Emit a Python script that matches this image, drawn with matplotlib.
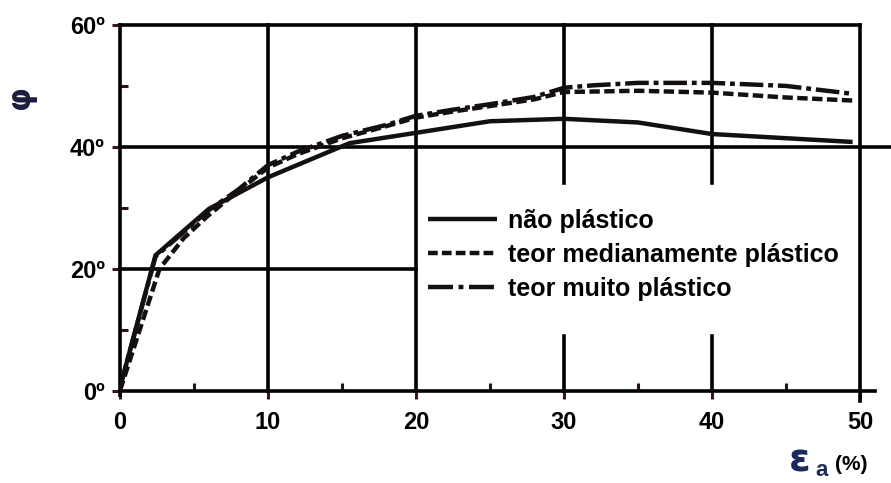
import matplotlib
matplotlib.use("Agg")
import matplotlib.pyplot as plt
from matplotlib.lines import Line2D

plt.rcParams['font.family'] = ['Liberation Sans', 'DejaVu Sans']
plt.rcParams['font.weight'] = 'bold'
plt.rcParams['lines.scale_dashes'] = False
plt.rcParams['lines.solid_capstyle'] = 'butt'

# axial strain (%) and friction angle (degrees) for each soil type
strain_nao = [0, 2.4, 6.0, 10.0, 15.5, 20.0, 25.0, 30.0, 35.0, 40.0, 49.5]
phi_nao = [0.5, 22.2, 29.8, 35.0, 40.6, 42.3, 44.2, 44.6, 44.0, 42.1, 40.8]

strain_medio = [0, 2.7, 3.0, 4.3, 5.9, 8.0, 10.0, 12.0, 15.0, 18.0, 20.0,
                22.5, 25.0, 28.0, 30.0, 35.0, 40.0, 45.0, 49.5]
phi_medio = [0, 20.2, 21.0, 25.0, 28.6, 32.8, 36.6, 38.8, 41.4, 43.4, 44.8,
             45.8, 46.7, 47.8, 49.0, 49.2, 48.9, 48.1, 47.6]

strain_muito = [0, 2.4, 6.0, 8.0, 10.0, 12.0, 15.0, 18.0, 20.0, 22.5, 25.0,
                28.0, 30.0, 32.0, 35.0, 40.0, 45.0, 49.5]
phi_muito = [0.5, 22.0, 29.6, 33.0, 37.0, 39.2, 41.8, 43.6, 45.1, 46.1, 47.0,
             48.2, 49.7, 50.1, 50.5, 50.5, 50.0, 48.7]

series_labels = ['não plástico', 'teor medianamente plástico', 'teor muito plástico']

x_major = [0, 10, 20, 30, 40, 50]
x_minor = [5, 15, 25, 35, 45]
y_major = [0, 20, 40, 60]
y_major_labels = ['0º', '20º', '40º', '60º']
y_minor = [10, 30, 50]

ink = '#141010'
frame_lw = 2.6
curve_lw = 3.2
dash_style = (0, (7.5, 3.2))
dashdot_style = (0, (17, 3.5, 3.5, 3.5))

fig = plt.figure(figsize=(8.91, 4.83), dpi=100)
W, H = 891, 483
ax = fig.add_axes([120 / W, 1 - 390.5 / H, 740 / W, 365.5 / H])
ax.set_xlim(0, 50)
ax.set_ylim(0, 60)
for s in ax.spines.values():
    s.set_visible(False)

frame_kw = dict(color='black', lw=frame_lw, clip_on=False, solid_capstyle='projecting', zorder=2)
# frame
ax.plot([0, 0], [-0.8, 60], **frame_kw)
ax.plot([0, 50], [60, 60], **frame_kw)
ax.plot([50, 50], [-1.8, 60], **frame_kw)
ax.plot([0, 51], [0, 0], **frame_kw)
# grid
for gx in (10, 20):
    ax.plot([gx, gx], [0, 60], **frame_kw)
for gx in (30, 40):
    ax.plot([gx, gx], [34, 60], **frame_kw)
    ax.plot([gx, gx], [0, 8.9], **frame_kw)
ax.plot([0, 52.3], [40, 40], **frame_kw)
ax.plot([0, 20], [20, 20], **frame_kw)

# curves
ax.plot(strain_nao, phi_nao, color=ink, lw=curve_lw, ls='-', zorder=4)
ax.plot(strain_medio, phi_medio, color=ink, lw=curve_lw, ls=dash_style, zorder=4)
ax.plot(strain_muito, phi_muito, color=ink, lw=curve_lw, ls=dashdot_style, zorder=4)

# ticks
ax.set_xticks(x_major)
ax.set_xticks(x_minor, minor=True)
ax.set_yticks(y_major)
ax.set_yticklabels(y_major_labels)
ax.set_yticks(y_minor, minor=True)
ax.tick_params(axis='both', which='major', direction='out', length=6,
               width=2.2, color='#3a1a14', labelsize=17)
ax.tick_params(axis='x', which='major', pad=9)
ax.tick_params(axis='y', which='major', pad=5)
ax.tick_params(axis='both', which='minor', direction='in', length=6,
               width=2.2, color='#2a1410')
for lab in ax.get_xticklabels() + ax.get_yticklabels():
    lab.set_fontweight('bold')

# legend
handles = [
    Line2D([], [], color=ink, lw=curve_lw, ls='-'),
    Line2D([], [], color=ink, lw=curve_lw, ls=(0, (7.0, 3.0))),
    Line2D([], [], color=ink, lw=curve_lw, ls=(0, (18, 4, 3.5, 4))),
]
ax.legend(handles, series_labels, loc='upper left', bbox_to_anchor=(0.416, 0.497),
          frameon=False, borderpad=0, borderaxespad=0, handlelength=2.76,
          handletextpad=0.44, labelspacing=0.4,
          prop=dict(family='Liberation Sans', weight='bold', size=18))

# axis titles
fig.text(21 / W, 1 - 97 / H, 'φ', rotation=90, ha='center', va='center',
         fontsize=22, fontweight='bold', color='#1c1c3c', family='DejaVu Sans')
fig.text(800 / W, 1 - 461 / H, 'ε', ha='center', va='center', fontsize=28,
         fontweight='bold', color='#1b2a5c', family='DejaVu Sans')
fig.text(822 / W, 1 - 470 / H, 'a', ha='center', va='center', fontsize=16,
         fontweight='bold', color='#1b2a5c')
fig.text(851 / W, 1 - 464 / H, '(%)', ha='center', va='center', fontsize=15,
         fontweight='bold', color='black')

fig.savefig('out.png', dpi=100)
